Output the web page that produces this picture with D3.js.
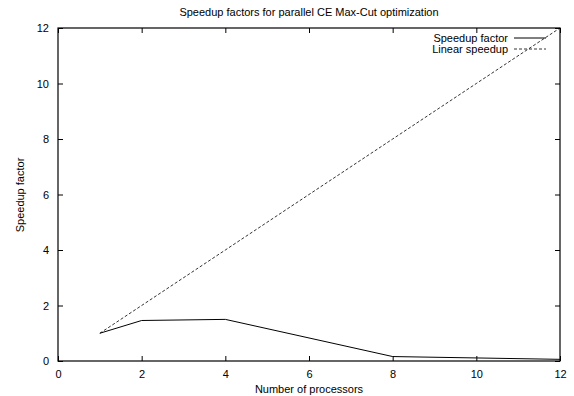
<!DOCTYPE html>
<html>
<head>
<meta charset="utf-8">
<script src="https://cdn.jsdelivr.net/npm/d3@7"></script>
<style>
  body { margin: 0; background: #fff; }
  svg text { font-family: "Liberation Sans", Arial, sans-serif; font-size: 11px; fill: #000; }
</style>
</head>
<body>
<svg id="chart" width="574" height="396"></svg>
<script>
const processors = [1, 2, 4, 8, 10, 12];
const speedup = [1.0, 1.46, 1.5, 0.16, 0.11, 0.06];
const linear = [1, 2, 4, 8, 10, 12];
const xTicks = [0, 2, 4, 6, 8, 10, 12];
const yTicks = [0, 2, 4, 6, 8, 10, 12];

const svg = d3.select("#chart");
const m = { left: 58, right: 560, top: 28, bottom: 361 };

const x = d3.scaleLinear().domain([0, 12]).range([m.left, m.right]);
const y = d3.scaleLinear().domain([0, 12]).range([m.bottom, m.top]);

// axes, ticks pointing inward, mirrored on top/right
const tick = 5;
svg.append("g").attr("transform", `translate(0,${m.bottom})`)
  .call(d3.axisBottom(x).tickValues(xTicks).tickSizeInner(-tick).tickSizeOuter(0).tickPadding(9));
svg.append("g").attr("transform", `translate(0,${m.top})`)
  .call(d3.axisTop(x).tickValues(xTicks).tickSizeInner(-tick).tickSizeOuter(0).tickFormat(""));
svg.append("g").attr("transform", `translate(${m.left},0)`)
  .call(d3.axisLeft(y).tickValues(yTicks).tickSizeInner(-tick).tickSizeOuter(0).tickPadding(9));
svg.append("g").attr("transform", `translate(${m.right},0)`)
  .call(d3.axisRight(y).tickValues(yTicks).tickSizeInner(-tick).tickSizeOuter(0).tickFormat(""));

svg.selectAll(".domain").remove();
svg.selectAll(".tick line").attr("stroke", "#000");
svg.selectAll(".tick text").style("font-size", "11px").style("font-family", "Liberation Sans, Arial, sans-serif");

svg.append("rect")
  .attr("x", m.left).attr("y", m.top)
  .attr("width", m.right - m.left).attr("height", m.bottom - m.top)
  .attr("fill", "none").attr("stroke", "#000").attr("stroke-width", 1.2);

const line = d3.line().x(d => x(d[0])).y(d => y(d[1]));

svg.append("path")
  .datum(processors.map((p, i) => [p, linear[i]]))
  .attr("d", line)
  .attr("fill", "none").attr("stroke", "#000").attr("stroke-width", 0.8)
  .attr("stroke-dasharray", "3,2");

svg.append("path")
  .datum(processors.map((p, i) => [p, speedup[i]]))
  .attr("d", line)
  .attr("fill", "none").attr("stroke", "#000").attr("stroke-width", 1);

// legend
const legend = [
  { label: "Speedup factor", dash: null },
  { label: "Linear speedup", dash: "3,2" }
];
legend.forEach((d, i) => {
  const ly = 38 + i * 11;
  svg.append("text").attr("x", 508).attr("y", ly).attr("dy", "0.35em")
    .attr("text-anchor", "end").text(d.label);
  svg.append("line").attr("x1", 514).attr("x2", 546).attr("y1", ly).attr("y2", ly)
    .attr("stroke", "#000").attr("stroke-width", d.dash ? 0.8 : 1)
    .attr("stroke-dasharray", d.dash);
});

// titles
svg.append("text").attr("x", 309).attr("y", 16).attr("text-anchor", "middle")
  .text("Speedup factors for parallel CE Max-Cut optimization");
svg.append("text").attr("x", 309).attr("y", 393).attr("text-anchor", "middle")
  .text("Number of processors");
svg.append("text").attr("transform", "translate(24,195) rotate(-90)")
  .attr("text-anchor", "middle").text("Speedup factor");
</script>
</body>
</html>
